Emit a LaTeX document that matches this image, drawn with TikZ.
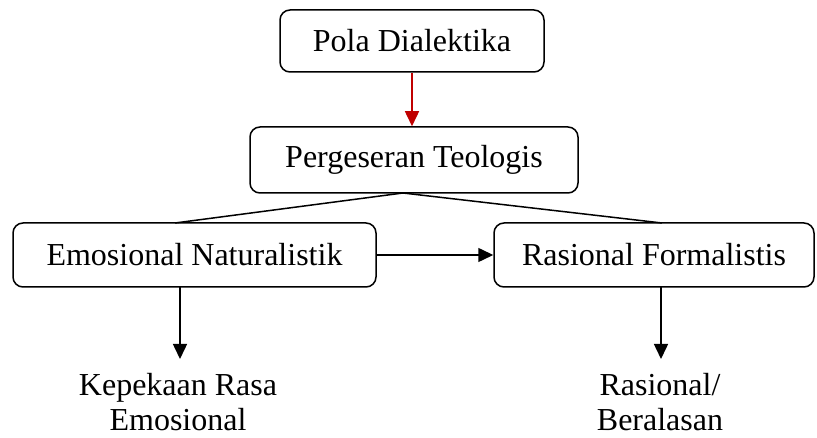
\documentclass[tikz,border=0pt]{standalone}
\usepackage{fontspec}
\setmainfont{Liberation Serif}
\usetikzlibrary{arrows.meta}
\definecolor{darkred}{HTML}{C00000}
\begin{document}
\begin{tikzpicture}[x=1pt,y=-1pt,
  every node/.style={font=\fontsize{32}{35}\selectfont},
  box/.style={draw,line width=1.5pt,rounded corners=10pt,inner sep=0pt},
  conn/.style={line width=1.5pt},
  arr/.style={conn,-{Triangle[length=15pt,width=14pt]}},
  lbl/.style={align=center,inner sep=0pt,anchor=north}]
\useasboundingbox (0,0) rectangle (817,438);
\node[box,minimum width=264pt,minimum height=62pt] (pola) at (412,41) {Pola Dialektika};
\node[box,minimum width=328pt,minimum height=66pt] (perg) at (414,160) {Pergeseran Teologis};
\node[box,minimum width=363pt,minimum height=64pt] (emo) at (194.5,255) {Emosional Naturalistik};
\node[box,minimum width=320pt,minimum height=64pt] (ras) at (654,255) {Rasional Formalistis};
\node[lbl] (t1) at (178,373) {Kepekaan Rasa\\Emosional};
\node[lbl] (t2) at (660,373) {Rasional/\\Beralasan};
\coordinate (pb) at (403,193);
\coordinate (et) at (175,223);
\coordinate (rt) at (662,223);
\coordinate (eb) at (180,287);
\coordinate (rb) at (661,287);
\coordinate (a1) at (180,359);
\coordinate (a2) at (661,359);
\draw[arr,color=darkred] (pola.south) -- (perg.north -| pola.south);
\draw[conn] (pb) -- (et);
\draw[conn] (pb) -- (rt);
\draw[arr] (emo.east) -- (ras.west);
\draw[arr] (eb) -- (a1);
\draw[arr] (rb) -- (a2);
\end{tikzpicture}
\end{document}
